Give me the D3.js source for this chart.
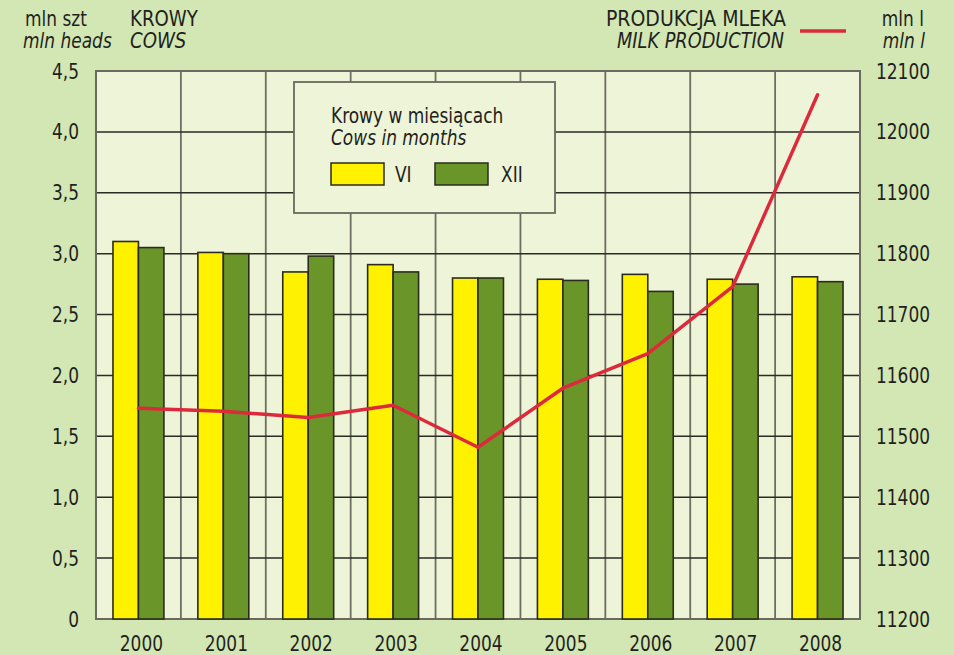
<!DOCTYPE html>
<html lang="pl">
<head>
<meta charset="utf-8">
<title>Krowy i produkcja mleka</title>
<style>
    body { margin : 0; background : #d2e7b4; }
    svg text { font-family : "Liberation Sans Narrow", "Arial Narrow", "DejaVu Sans Condensed", sans-serif; fill : #231f20; }
    .it { font-style : italic; }
</style>
</head>
<body>
<div id="chart"></div>

<script src="https://cdn.jsdelivr.net/npm/d3@7/dist/d3.min.js"></script>
<script>

// cows in June (VI) and December (XII), mln heads
var years = [ "2000", "2001", "2002", "2003", "2004", "2005", "2006", "2007", "2008" ];
var cowsJune = [ 3.10, 3.01, 2.85, 2.91, 2.80, 2.79, 2.83, 2.79, 2.81 ];
var cowsDec  = [ 3.05, 3.00, 2.98, 2.85, 2.80, 2.78, 2.69, 2.75, 2.77 ];
// milk production, mln l
var milk = [ 11546, 11541, 11531, 11551, 11482, 11579, 11636, 11746, 12061 ];

var leftTicks = [ 0, 0.5, 1, 1.5, 2, 2.5, 3, 3.5, 4, 4.5 ];
var rightTicks = [ 11200, 11300, 11400, 11500, 11600, 11700, 11800, 11900, 12000, 12100 ];

var width = 954, height = 655;
var plotL = 96, plotR = 860, plotT = 71, plotB = 619;

var svg = d3.select( "#chart" ).append( "svg" )
    .attr( "width" , width )
    .attr( "height" , height );

var x = d3.scaleBand().domain( years ).range( [ plotL , plotR ] );
var y = d3.scaleLinear().domain( [ 0 , 4.5 ] ).range( [ plotB , plotT ] );
var y2 = d3.scaleLinear().domain( [ 11200 , 12100 ] ).range( [ plotB , plotT ] );

var barW = x.bandwidth() * 0.3;

// plot background
svg.append( "rect" )
    .attr( "x" , plotL ).attr( "y" , plotT )
    .attr( "width" , plotR - plotL ).attr( "height" , plotB - plotT )
    .style( "fill" , "#eef4d7" );

// vertical grid at the category borders
svg.selectAll( ".vgrid" )
    .data( years.slice( 1 ) )
    .enter().append( "line" )
        .attr( "class" , "vgrid" )
        .attr( "x1" , function( d ) { return x( d ); } )
        .attr( "x2" , function( d ) { return x( d ); } )
        .attr( "y1" , plotT ).attr( "y2" , plotB )
        .style( "stroke" , "#6e6e62" ).style( "stroke-width" , 1.8 );

// horizontal grid
svg.selectAll( ".hgrid" )
    .data( leftTicks.slice( 1 , -1 ) )
    .enter().append( "line" )
        .attr( "class" , "hgrid" )
        .attr( "x1" , plotL ).attr( "x2" , plotR )
        .attr( "y1" , function( d ) { return y( d ); } )
        .attr( "y2" , function( d ) { return y( d ); } )
        .style( "stroke" , "#2b2b26" ).style( "stroke-width" , 1.5 );

// frame
svg.append( "rect" )
    .attr( "x" , plotL ).attr( "y" , plotT )
    .attr( "width" , plotR - plotL ).attr( "height" , plotB - plotT )
    .style( "fill" , "none" )
    .style( "stroke" , "#6a6a5e" ).style( "stroke-width" , 2 );

// legend box for the bars
var leg = svg.append( "g" ).attr( "transform" , "translate(294,82)" );
leg.append( "rect" )
    .attr( "width" , 261 ).attr( "height" , 131 )
    .style( "fill" , "#eef4d7" )
    .style( "stroke" , "#6a6a5e" ).style( "stroke-width" , 1.8 );
leg.append( "text" ).attr( "x" , 37 ).attr( "y" , 41 ).style( "font-size" , "21px" ).text( "Krowy w miesiącach" );
leg.append( "text" ).attr( "x" , 37 ).attr( "y" , 63 ).attr( "class" , "it" ).style( "font-size" , "21px" ).text( "Cows in months" );
leg.append( "rect" ).attr( "x" , 37 ).attr( "y" , 81 ).attr( "width" , 53 ).attr( "height" , 22 )
    .style( "fill" , "#fff200" ).style( "stroke" , "#2b2b20" ).style( "stroke-width" , 1.5 );
leg.append( "text" ).attr( "x" , 101 ).attr( "y" , 100 ).style( "font-size" , "21px" ).text( "VI" );
leg.append( "rect" ).attr( "x" , 141 ).attr( "y" , 81 ).attr( "width" , 53 ).attr( "height" , 22 )
    .style( "fill" , "#6a9528" ).style( "stroke" , "#2b2b20" ).style( "stroke-width" , 1.5 );
leg.append( "text" ).attr( "x" , 207 ).attr( "y" , 100 ).style( "font-size" , "21px" ).text( "XII" );

// bars
var mid = function( i ) { return x( years[i] ) + x.bandwidth() / 2; };

svg.selectAll( ".june" )
    .data( cowsJune )
    .enter().append( "rect" )
        .attr( "class" , "june" )
        .attr( "x" , function( d , i ) { return mid( i ) - barW; } )
        .attr( "y" , function( d ) { return y( d ); } )
        .attr( "width" , barW )
        .attr( "height" , function( d ) { return plotB - y( d ); } )
        .style( "fill" , "#fff200" ).style( "stroke" , "#2b2b20" ).style( "stroke-width" , 1.6 );

svg.selectAll( ".dec" )
    .data( cowsDec )
    .enter().append( "rect" )
        .attr( "class" , "dec" )
        .attr( "x" , function( d , i ) { return mid( i ); } )
        .attr( "y" , function( d ) { return y( d ); } )
        .attr( "width" , barW )
        .attr( "height" , function( d ) { return plotB - y( d ); } )
        .style( "fill" , "#6a9528" ).style( "stroke" , "#2b2b20" ).style( "stroke-width" , 1.6 );

// milk line
var line = d3.line()
    .x( function( d , i ) { return mid( i ); } )
    .y( function( d ) { return y2( d ); } );

svg.append( "path" )
    .datum( milk )
    .attr( "d" , line )
    .style( "fill" , "none" )
    .style( "stroke" , "#dc2a3c" ).style( "stroke-width" , 3.5 )
    .style( "stroke-linejoin" , "round" ).style( "stroke-linecap" , "round" );

// axes labels
var fmt = function( d ) { return d === 0 ? "0" : d3.format( ".1f" )( d ).replace( "." , "," ); };

svg.selectAll( ".lt" )
    .data( leftTicks )
    .enter().append( "text" )
        .attr( "class" , "lt" )
        .attr( "x" , 79 )
        .attr( "y" , function( d ) { return y( d ); } )
        .attr( "dy" , "0.36em" )
        .attr( "text-anchor" , "end" )
        .style( "font-size" , "21px" )
        .text( fmt );

svg.selectAll( ".rt" )
    .data( rightTicks )
    .enter().append( "text" )
        .attr( "class" , "rt" )
        .attr( "x" , 876 )
        .attr( "y" , function( d ) { return y2( d ); } )
        .attr( "dy" , "0.36em" )
        .style( "font-size" , "21px" )
        .text( function( d ) { return d; } );

svg.selectAll( ".xt" )
    .data( years )
    .enter().append( "text" )
        .attr( "class" , "xt" )
        .attr( "x" , function( d , i ) { return mid( i ) + 3; } )
        .attr( "y" , 651 )
        .attr( "text-anchor" , "middle" )
        .style( "font-size" , "21px" )
        .text( function( d ) { return d; } );

// headers
svg.append( "text" ).attr( "x" , 25 ).attr( "y" , 26 ).style( "font-size" , "21px" ).text( "mln szt" );
svg.append( "text" ).attr( "x" , 23 ).attr( "y" , 48 ).attr( "class" , "it" ).style( "font-size" , "21px" ).text( "mln heads" );
svg.append( "text" ).attr( "x" , 130 ).attr( "y" , 26 ).attr( "data-sx" , 0.96 ).style( "font-size" , "21px" ).text( "KROWY" );
svg.append( "text" ).attr( "x" , 130 ).attr( "y" , 48 ).attr( "data-sx" , 0.96 ).attr( "class" , "it" ).style( "font-size" , "21px" ).text( "COWS" );

svg.append( "text" ).attr( "x" , 786 ).attr( "y" , 26 ).attr( "data-sx" , 1 ).attr( "text-anchor" , "end" ).style( "font-size" , "21px" ).text( "PRODUKCJA MLEKA" );
svg.append( "text" ).attr( "x" , 784 ).attr( "y" , 48 ).attr( "data-sx" , 0.94 ).attr( "text-anchor" , "end" ).attr( "class" , "it" ).style( "font-size" , "21px" ).text( "MILK PRODUCTION" );
svg.append( "line" )
    .attr( "x1" , 800 ).attr( "x2" , 846 ).attr( "y1" , 31 ).attr( "y2" , 31 )
    .style( "stroke" , "#dc2a3c" ).style( "stroke-width" , 3.5 );
svg.append( "text" ).attr( "x" , 924 ).attr( "y" , 26 ).attr( "text-anchor" , "end" ).style( "font-size" , "21px" ).text( "mln l" );
svg.append( "text" ).attr( "x" , 925 ).attr( "y" , 48 ).attr( "text-anchor" , "end" ).attr( "class" , "it" ).style( "font-size" , "21px" ).text( "mln l" );

// the original type is a condensed face, squeeze the labels a bit around their anchor
svg.selectAll( "text" ).each( function() {
    var tx = +this.getAttribute( "x" ), ty = +this.getAttribute( "y" );
    var sx = this.getAttribute( "data-sx" ) || 0.9;
    this.setAttribute( "transform" , "translate(" + tx + "," + ty + ") scale(" + sx + ",1) translate(" + ( -tx ) + "," + ( -ty ) + ")" );
} );

</script>
</body>
</html>
